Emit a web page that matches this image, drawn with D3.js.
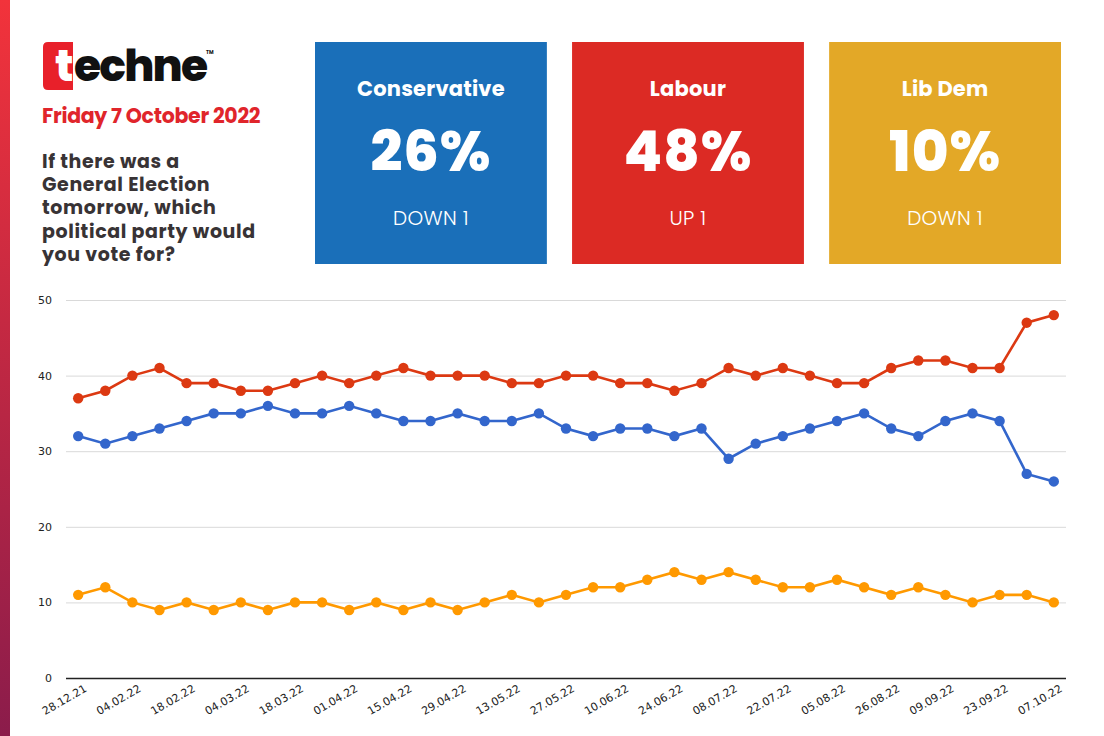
<!DOCTYPE html>
<html>
<head>
<script src="https://d3js.org/d3.v7.min.js"></script>
<style>
    body { margin: 0; background: #fff; }
    svg { display: block; }
    .head { font-family: Poppins, Inter, "Noto Sans", sans-serif; }
    .axis text { font-family: Tahoma, "DejaVu Sans", Arial, sans-serif; font-size: 11px; fill: #222; }
</style>
</head>
<body>
<div id="chart"></div>
<script>
// poll dates (only every other one is labelled on the axis)
var dates = ["28.12.21", "21.01.22", "04.02.22", "11.02.22", "18.02.22", "25.02.22", "04.03.22", "11.03.22",
    "18.03.22", "25.03.22", "01.04.22", "08.04.22", "15.04.22", "22.04.22", "29.04.22", "06.05.22",
    "13.05.22", "20.05.22", "27.05.22", "03.06.22", "10.06.22", "17.06.22", "24.06.22", "01.07.22",
    "08.07.22", "15.07.22", "22.07.22", "29.07.22", "05.08.22", "19.08.22", "26.08.22", "02.09.22",
    "09.09.22", "16.09.22", "23.09.22", "30.09.22", "07.10.22"];

var labour = [37, 38, 40, 41, 39, 39, 38, 38, 39, 40, 39, 40, 41, 40, 40, 40, 39, 39, 40, 40, 39, 39, 38, 39,
    41, 40, 41, 40, 39, 39, 41, 42, 42, 41, 41, 47, 48];
var conservative = [32, 31, 32, 33, 34, 35, 35, 36, 35, 35, 36, 35, 34, 34, 35, 34, 34, 35, 33, 32, 33, 33, 32, 33,
    29, 31, 32, 33, 34, 35, 33, 32, 34, 35, 34, 27, 26];
var libdem = [11, 12, 10, 9, 10, 9, 10, 9, 10, 10, 9, 10, 9, 10, 9, 10, 11, 10, 11, 12, 12, 13, 14, 13,
    14, 13, 12, 12, 13, 12, 11, 12, 11, 10, 11, 11, 10];

var yTicks = [0, 10, 20, 30, 40, 50];

// headline boxes
var boxParties = ["Conservative", "Labour", "Lib Dem"];
var boxShares = ["26%", "48%", "10%"];
var boxChanges = ["DOWN 1", "UP 1", "DOWN 1"];
var boxColors = ["#1a6fb9", "#dc2a24", "#e3a827"];

var W = 1104, H = 736;
var svg = d3.select("#chart").append("svg")
    .attr("width", W)
    .attr("height", H);

// left edge strip
var grad = svg.append("defs").append("linearGradient")
    .attr("id", "edge").attr("x1", 0).attr("y1", 0).attr("x2", 0).attr("y2", 1);
grad.append("stop").attr("offset", "0%").attr("stop-color", "#f2333b");
grad.append("stop").attr("offset", "100%").attr("stop-color", "#8b1c4b");
svg.append("rect").attr("x", 0).attr("y", 0).attr("width", 10).attr("height", H).attr("fill", "url(#edge)");

// logo
var logo = svg.append("g").attr("class", "head");
logo.append("path")
    .attr("d", "M48,42 H73 V90 H48 Q43,90 43,85 V47 Q43,42 48,42 Z")
    .attr("fill", "#e8202a");
logo.append("text").attr("x", 55).attr("y", 81)
    .attr("font-size", 44).attr("font-weight", 800).attr("fill", "#fff")
    .text("t");
logo.append("text").attr("x", 74).attr("y", 81)
    .attr("font-size", 44).attr("font-weight", 800).attr("fill", "#111")
    .attr("letter-spacing", -1.8)
    .text("echne");
logo.append("text").attr("x", 206).attr("y", 54)
    .attr("font-size", 5).attr("font-weight", 700).attr("fill", "#111")
    .text("TM");

svg.append("text").attr("class", "head")
    .attr("x", 42).attr("y", 123)
    .attr("font-size", 20.5).attr("font-weight", 700).attr("fill", "#e0252b")
    .attr("letter-spacing", -0.3)
    .text("Friday 7 October 2022");

var question = ["If there was a", "General Election", "tomorrow, which", "political party would", "you vote for?"];
svg.append("g").selectAll("text")
    .data(question)
    .enter()
    .append("text")
    .attr("class", "head")
    .attr("x", 42)
    .attr("y", function(d, i) { return 168 + i * 23.2; })
    .attr("font-size", 19).attr("font-weight", 700).attr("fill", "#383335")
    .attr("letter-spacing", 0.6)
    .text(function(d) { return d; });

// boxes
var boxX = d3.scaleBand().domain(boxParties).range([315, 1061]).paddingInner(0.098);
var boxes = svg.append("g").selectAll("g")
    .data(boxParties)
    .enter()
    .append("g")
    .attr("class", "head")
    .attr("transform", function(d) { return "translate(" + boxX(d) + ",42)"; });
boxes.append("rect")
    .attr("width", boxX.bandwidth())
    .attr("height", 222)
    .attr("fill", function(d, i) { return boxColors[i]; });
boxes.append("text")
    .attr("x", boxX.bandwidth() / 2).attr("y", 54)
    .attr("text-anchor", "middle").attr("fill", "#fff")
    .attr("font-size", 21).attr("font-weight", 700)
    .attr("letter-spacing", 0.2)
    .text(function(d) { return d; });
boxes.append("text")
    .attr("x", boxX.bandwidth() / 2).attr("y", 129)
    .attr("text-anchor", "middle").attr("fill", "#fff")
    .attr("font-size", 56).attr("font-weight", 800)
    .attr("letter-spacing", 1)
    .text(function(d, i) { return boxShares[i]; });
boxes.append("text")
    .attr("x", boxX.bandwidth() / 2).attr("y", 183)
    .attr("text-anchor", "middle").attr("fill", "#fff")
    .attr("font-size", 20).attr("font-weight", 300)
    .attr("letter-spacing", 0.3)
    .text(function(d, i) { return boxChanges[i]; });

// line chart
var x = d3.scalePoint().domain(dates).range([66, 1066]).padding(0.45);
var y = d3.scaleLinear().domain([0, 50]).range([678, 300]);

var g = svg.append("g");

g.append("g")
    .attr("class", "axis")
    .attr("transform", "translate(66,0)")
    .call(d3.axisLeft(y).tickValues(yTicks).tickSize(-1000).tickPadding(14))
    .call(function(a) {
        a.select(".domain").remove();
        a.selectAll(".tick line").attr("stroke", function(d) { return d === 0 ? "#222" : "#d9d9d9"; })
            .attr("stroke-width", function(d) { return d === 0 ? 1.3 : 1; });
    });

g.append("g")
    .attr("class", "axis")
    .attr("transform", "translate(0,678)")
    .call(d3.axisBottom(x).tickValues(dates.filter(function(d, i) { return i % 2 === 0; })).tickSize(0))
    .call(function(a) { a.select(".domain").remove(); })
    .selectAll("text")
    .attr("text-anchor", "end")
    .attr("transform", "translate(5,6) rotate(-30)")
    .attr("dy", "0.7em")
    .attr("y", 0);

var series = [
    { values: libdem, color: "#ff9900" },
    { values: conservative, color: "#3366cc" },
    { values: labour, color: "#dc3912" }
];

var line = d3.line()
    .x(function(d, i) { return x(dates[i]); })
    .y(function(d) { return y(d); });

series.forEach(function(s) {
    g.append("path")
        .datum(s.values)
        .attr("fill", "none")
        .attr("stroke", s.color)
        .attr("stroke-width", 2.6)
        .attr("d", line);
    g.append("g").selectAll("circle")
        .data(s.values)
        .enter()
        .append("circle")
        .attr("cx", function(d, i) { return x(dates[i]); })
        .attr("cy", function(d) { return y(d); })
        .attr("r", 5.2)
        .attr("fill", s.color);
});
</script>
</body>
</html>
